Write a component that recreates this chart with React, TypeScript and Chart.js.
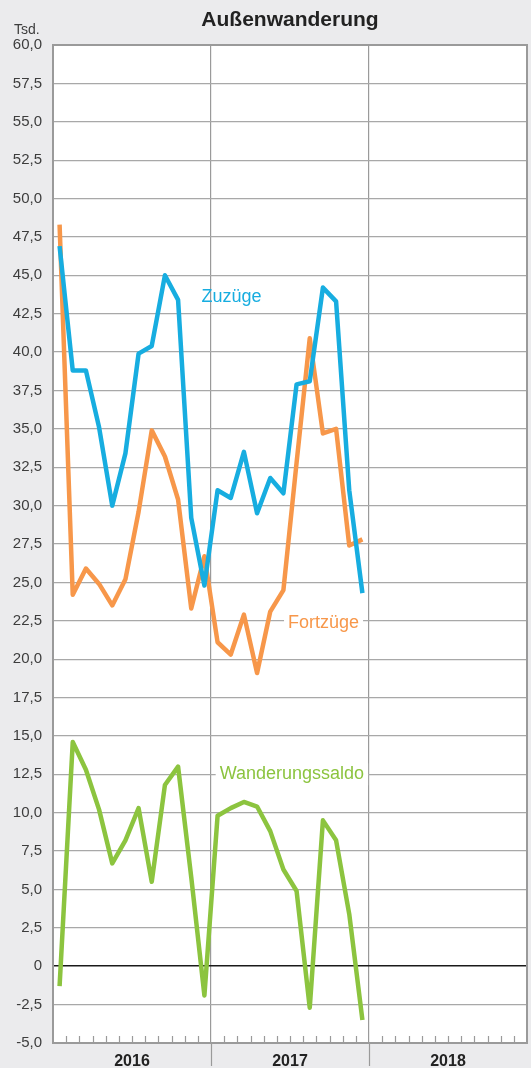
import React, { useEffect, useRef } from "react";
import { Chart, registerables } from "chart.js";

Chart.register(...registerables);

// Months Jan 2016 .. Dec 2017
const months = [
  "2016-01", "2016-02", "2016-03", "2016-04", "2016-05", "2016-06",
  "2016-07", "2016-08", "2016-09", "2016-10", "2016-11", "2016-12",
  "2017-01", "2017-02", "2017-03", "2017-04", "2017-05", "2017-06",
  "2017-07", "2017-08", "2017-09", "2017-10", "2017-11", "2017-12",
];
const yearLabels = ["2016", "2017", "2018"];

const zuzuege = [46.9, 38.8, 38.8, 35.1, 30.0, 33.4, 39.9, 40.4, 45.0, 43.4, 29.2, 24.8,
  31.0, 30.5, 33.5, 29.5, 31.8, 30.8, 37.9, 38.1, 44.2, 43.3, 31.0, 24.3];
const fortzuege = [48.3, 24.2, 25.9, 24.9, 23.5, 25.2, 29.6, 34.9, 33.2, 30.4, 23.3, 26.7,
  21.1, 20.3, 22.9, 19.1, 23.1, 24.5, 32.8, 40.9, 34.7, 35.0, 27.4, 27.8];
const saldo = [-1.3, 14.6, 12.8, 10.2, 6.7, 8.2, 10.3, 5.5, 11.8, 13.0, 5.8, -1.9,
  9.8, 10.3, 10.7, 10.4, 8.8, 6.3, 4.9, -2.7, 9.5, 8.2, 3.4, -3.5];

const seriesNames = ["Zuzüge", "Fortzüge", "Wanderungssaldo"];
const seriesColors = ["#17ade0", "#f7974a", "#8cc43f"];
// label anchors (x in months, y in Tsd.) for series names
const labelX = [11.27, 17.85, 12.66];
const labelY = [43.28, 22.0, 12.17];
const labelBoxed = [false, true, true];

const FONT = "'Liberation Sans', Arial, Helvetica, sans-serif";

const fmt = (v: number) => (v === 0 ? "0" : v.toFixed(1).replace(".", ","));

export default function App() {
  const ref = useRef<HTMLCanvasElement | null>(null);

  useEffect(() => {
    document.body.style.margin = "0";
    const canvas = ref.current;
    if (!canvas) return;

    const toPts = (arr: number[]) => arr.map((v, i) => ({ x: i + 0.5, y: v }));

    const decor = {
      id: "decor",
      beforeDraw(chart: any) {
        const { ctx, chartArea } = chart;
        ctx.save();
        ctx.fillStyle = "#ffffff";
        ctx.fillRect(chartArea.left, chartArea.top, chartArea.right - chartArea.left, chartArea.bottom - chartArea.top);
        ctx.restore();
      },
      beforeDatasetsDraw(chart: any) {
        const { ctx, chartArea } = chart;
        const xs = chart.scales.x;
        ctx.save();
        ctx.strokeStyle = "#9a9a9a";
        ctx.lineWidth = 1.2;
        // month ticks
        for (let m = 1; m < 36; m++) {
          if (m % 12 === 0) continue;
          const x = Math.round(xs.getPixelForValue(m)) + 0.5;
          ctx.beginPath();
          ctx.moveTo(x, chartArea.bottom);
          ctx.lineTo(x, chartArea.bottom - 7);
          ctx.stroke();
        }
        // year separators extending below
        [12, 24].forEach((m) => {
          const x = Math.round(xs.getPixelForValue(m)) + 0.5;
          ctx.beginPath();
          ctx.moveTo(x, chartArea.bottom);
          ctx.lineTo(x, chart.height - 2);
          ctx.stroke();
        });
        // plot border
        ctx.strokeStyle = "#9a9a9a";
        ctx.lineWidth = 2;
        ctx.strokeRect(chartArea.left, chartArea.top, chartArea.right - chartArea.left, chartArea.bottom - chartArea.top);
        ctx.restore();
      },
      afterDatasetsDraw(chart: any) {
        const { ctx } = chart;
        const xs = chart.scales.x;
        const ys = chart.scales.y;
        ctx.save();
        ctx.font = `18px ${FONT}`;
        ctx.textAlign = "left";
        ctx.textBaseline = "alphabetic";
        seriesNames.forEach((name, i) => {
          const x = xs.getPixelForValue(labelX[i]);
          const y = ys.getPixelForValue(labelY[i]);
          const w = ctx.measureText(name).width;
          if (labelBoxed[i]) {
            ctx.fillStyle = "#ffffff";
            ctx.fillRect(x - 4, y - 16, w + 8, 22);
          }
          ctx.fillStyle = seriesColors[i];
          ctx.fillText(name, x, y);
        });
        ctx.restore();
      },
      afterDraw(chart: any) {
        const { ctx, chartArea } = chart;
        ctx.save();
        ctx.fillStyle = "#222222";
        ctx.font = `bold 21px ${FONT}`;
        ctx.textAlign = "center";
        ctx.textBaseline = "middle";
        ctx.fillText("Außenwanderung", (chartArea.left + chartArea.right) / 2, 20);
        ctx.fillStyle = "#3d3d3d";
        ctx.font = `14px ${FONT}`;
        ctx.textAlign = "left";
        ctx.fillText("Tsd.", 14, 30);
        ctx.restore();
      },
    };

    const chart = new Chart(canvas, {
      type: "line",
      data: {
        datasets: [
          { label: seriesNames[0], data: toPts(zuzuege), borderColor: seriesColors[0] },
          { label: seriesNames[1], data: toPts(fortzuege), borderColor: seriesColors[1] },
          { label: seriesNames[2], data: toPts(saldo), borderColor: seriesColors[2] },
        ].map((d) => ({
          ...d,
          borderWidth: 4.5,
          pointRadius: 0,
          tension: 0,
          fill: false,
          borderJoinStyle: "round" as const,
        })),
      },
      options: {
        responsive: false,
        animation: false,
        devicePixelRatio: 1,
        layout: { padding: { top: 45, right: 4, left: 0, bottom: 0 } },
        plugins: {
          legend: { display: false },
          title: { display: false },
          tooltip: { enabled: false },
        },
        scales: {
          x: {
            type: "linear",
            min: 0,
            max: 36,
            afterBuildTicks: (scale: any) => {
              scale.ticks = [0, 6, 12, 18, 24, 30, 36].map((value) => ({ value }));
            },
            afterFit: (scale: any) => {
              scale.height = 25;
              scale.paddingLeft = 0;
              scale.paddingRight = 0;
            },
            border: { display: false },
            grid: {
              drawTicks: false,
              color: (c: any) =>
                c.tick && (c.tick.value === 12 || c.tick.value === 24) ? "#9a9a9a" : "rgba(0,0,0,0)",
              lineWidth: 1.2,
            },
            ticks: {
              autoSkip: false,
              maxRotation: 0,
              padding: 9,
              color: "#222222",
              font: { family: FONT, size: 16, weight: "bold" },
              callback: (v: any) => {
                const i = [6, 18, 30].indexOf(Number(v));
                return i >= 0 ? yearLabels[i] : "";
              },
            },
          },
          y: {
            min: -5,
            max: 60,
            afterFit: (scale: any) => {
              scale.width = 53;
            },
            border: { display: false },
            grid: {
              drawTicks: false,
              color: (c: any) => (c.tick && c.tick.value === 0 ? "#1a1a1a" : "#a8a8a8"),
              lineWidth: (c: any) => (c.tick && c.tick.value === 0 ? 1.6 : 1.3),
            },
            ticks: {
              stepSize: 2.5,
              padding: 11,
              color: "#3d3d3d",
              font: { family: FONT, size: 15 },
              callback: (v: any) => fmt(Number(v)),
            },
          },
        },
      },
      plugins: [decor],
    } as any);

    return () => chart.destroy();
  }, []);

  return (
    <div style={{ width: 531, height: 1068, background: "#ebebed", overflow: "hidden" }}>
      <canvas ref={ref} width={531} height={1068} style={{ display: "block" }} />
    </div>
  );
}
